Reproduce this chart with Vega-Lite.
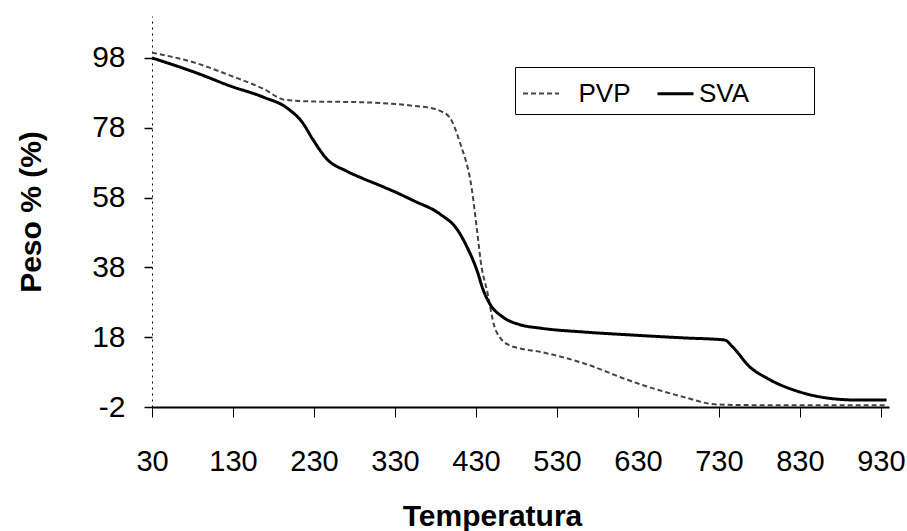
{
  "$schema": "https://vega.github.io/schema/vega-lite/v6.json",
  "width": 737,
  "height": 391,
  "autosize": {"type": "none"},
  "padding": {"left": 152, "top": 16, "right": 18, "bottom": 124},
  "background": "white",
  "config": {
    "view": {"stroke": null},
    "font": "Liberation Sans"
  },
  "data": {
    "values": [
      {"T": 30, "Peso": 99.5, "serie": "PVP"},
      {"T": 86, "Peso": 96.4, "serie": "PVP"},
      {"T": 126, "Peso": 93.0, "serie": "PVP"},
      {"T": 167, "Peso": 89.2, "serie": "PVP"},
      {"T": 194, "Peso": 86.0, "serie": "PVP"},
      {"T": 230, "Peso": 85.5, "serie": "PVP"},
      {"T": 266, "Peso": 85.4, "serie": "PVP"},
      {"T": 311, "Peso": 85.1, "serie": "PVP"},
      {"T": 352, "Peso": 84.3, "serie": "PVP"},
      {"T": 373, "Peso": 83.7, "serie": "PVP"},
      {"T": 386, "Peso": 82.8, "serie": "PVP"},
      {"T": 398, "Peso": 80.8, "serie": "PVP"},
      {"T": 410, "Peso": 73.9, "serie": "PVP"},
      {"T": 425, "Peso": 60.2, "serie": "PVP"},
      {"T": 432, "Peso": 47.3, "serie": "PVP"},
      {"T": 436, "Peso": 39.5, "serie": "PVP"},
      {"T": 444, "Peso": 31.0, "serie": "PVP"},
      {"T": 453, "Peso": 20.9, "serie": "PVP"},
      {"T": 460, "Peso": 17.8, "serie": "PVP"},
      {"T": 472, "Peso": 15.6, "serie": "PVP"},
      {"T": 484, "Peso": 14.8, "serie": "PVP"},
      {"T": 509, "Peso": 13.8, "serie": "PVP"},
      {"T": 535, "Peso": 12.4, "serie": "PVP"},
      {"T": 562, "Peso": 10.6, "serie": "PVP"},
      {"T": 624, "Peso": 5.2, "serie": "PVP"},
      {"T": 686, "Peso": 0.9, "serie": "PVP"},
      {"T": 728, "Peso": -1.3, "serie": "PVP"},
      {"T": 800, "Peso": -1.5, "serie": "PVP"},
      {"T": 937, "Peso": -1.5, "serie": "PVP"},
      {"T": 30, "Peso": 98.0, "serie": "SVA"},
      {"T": 86, "Peso": 93.6, "serie": "SVA"},
      {"T": 126, "Peso": 90.0, "serie": "SVA"},
      {"T": 167, "Peso": 86.8, "serie": "SVA"},
      {"T": 197, "Peso": 83.6, "serie": "SVA"},
      {"T": 216, "Peso": 79.4, "serie": "SVA"},
      {"T": 229, "Peso": 74.5, "serie": "SVA"},
      {"T": 246, "Peso": 69.0, "serie": "SVA"},
      {"T": 270, "Peso": 65.6, "serie": "SVA"},
      {"T": 290, "Peso": 63.5, "serie": "SVA"},
      {"T": 311, "Peso": 61.5, "serie": "SVA"},
      {"T": 332, "Peso": 59.4, "serie": "SVA"},
      {"T": 352, "Peso": 57.2, "serie": "SVA"},
      {"T": 386, "Peso": 53.2, "serie": "SVA"},
      {"T": 407, "Peso": 48.8, "serie": "SVA"},
      {"T": 419, "Peso": 43.8, "serie": "SVA"},
      {"T": 431, "Peso": 37.3, "serie": "SVA"},
      {"T": 439, "Peso": 31.5, "serie": "SVA"},
      {"T": 447, "Peso": 27.6, "serie": "SVA"},
      {"T": 463, "Peso": 23.8, "serie": "SVA"},
      {"T": 484, "Peso": 21.6, "serie": "SVA"},
      {"T": 509, "Peso": 20.6, "serie": "SVA"},
      {"T": 562, "Peso": 19.5, "serie": "SVA"},
      {"T": 624, "Peso": 18.6, "serie": "SVA"},
      {"T": 686, "Peso": 17.8, "serie": "SVA"},
      {"T": 737, "Peso": 17.2, "serie": "SVA"},
      {"T": 747, "Peso": 15.2, "serie": "SVA"},
      {"T": 768, "Peso": 9.5, "serie": "SVA"},
      {"T": 789, "Peso": 6.3, "serie": "SVA"},
      {"T": 830, "Peso": 2.3, "serie": "SVA"},
      {"T": 863, "Peso": 0.6, "serie": "SVA"},
      {"T": 900, "Peso": 0.0, "serie": "SVA"},
      {"T": 937, "Peso": 0.0, "serie": "SVA"}
    ]
  },
  "mark": {"type": "line", "interpolate": "monotone"},
  "encoding": {
    "x": {
      "field": "T",
      "type": "quantitative",
      "title": "Temperatura",
      "scale": {"domain": [30, 940], "nice": false, "zero": false},
      "axis": {
        "values": [30, 130, 230, 330, 430, 530, 630, 730, 830, 930],
        "grid": false,
        "domainColor": "black",
        "domainWidth": 2,
        "tickColor": "black",
        "tickSize": 10,
        "tickWidth": 1,
        "labelFont": "Liberation Sans",
        "labelFontSize": 29,
        "labelColor": "black",
        "labelPadding": 30,
        "labelFlush": false,
        "titleFont": "Liberation Sans",
        "titleFontSize": 30,
        "titleFontWeight": "bold",
        "titleColor": "black",
        "titleX": 340,
        "titleY": 118,
        "titleBaseline": "alphabetic"
      }
    },
    "y": {
      "field": "Peso",
      "type": "quantitative",
      "title": "Peso % (%)",
      "scale": {"domain": [-2, 110], "nice": false, "zero": false},
      "axis": {
        "values": [-2, 18, 38, 58, 78, 98],
        "labelExpr": "'' + datum.value",
        "grid": false,
        "domainColor": "black",
        "domainDash": [2, 4],
        "domainWidth": 1,
        "tickColor": "black",
        "tickSize": 8,
        "tickWidth": 1.5,
        "labelFont": "Liberation Sans",
        "labelFontSize": 30,
        "labelColor": "black",
        "labelPadding": 19,
        "labelFlush": false,
        "titleFont": "Liberation Sans",
        "titleFontSize": 30,
        "titleFontWeight": "bold",
        "titleColor": "black",
        "titleAngle": -90,
        "titleX": -112,
        "titleBaseline": "alphabetic"
      }
    },
    "color": {
      "field": "serie",
      "type": "nominal",
      "scale": {"domain": ["PVP", "SVA"], "range": ["#444444", "#000000"]},
      "legend": {
        "orient": "none",
        "legendX": 363,
        "legendY": 51,
        "direction": "horizontal",
        "title": null,
        "padding": 7,
        "strokeColor": "black",
        "fillColor": "white",
        "symbolType": "stroke",
        "symbolSize": 1296,
        "symbolStrokeWidth": 2.5,
        "labelFont": "Liberation Sans",
        "labelFontSize": 26,
        "labelColor": "black",
        "labelOffset": 4,
        "columnPadding": 20,
        "labelExpr": "datum.label == 'PVP' ? '\u200b\u00a0\u00a0PVP' : 'SVA\u00a0\u00a0\u00a0\u00a0\u00a0\u00a0\u00a0\u00a0\u200b'"
      }
    },
    "strokeDash": {
      "field": "serie",
      "type": "nominal",
      "scale": {"domain": ["PVP", "SVA"], "range": [[5, 3], [1, 0]]},
      "legend": null
    },
    "strokeWidth": {
      "field": "serie",
      "type": "nominal",
      "scale": {"domain": ["PVP", "SVA"], "range": [2, 3]},
      "legend": null
    }
  }
}
